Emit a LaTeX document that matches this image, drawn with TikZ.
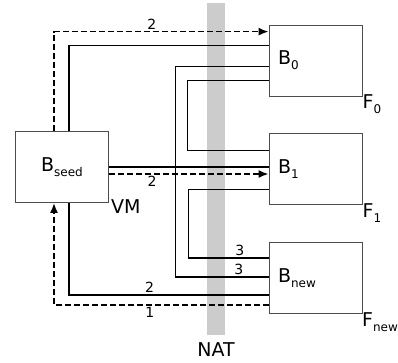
\documentclass[tikz,border=0pt]{standalone}
\usepackage{fontspec}
\setmainfont{DejaVu Sans}
\usetikzlibrary{arrows.meta,positioning}
\newcommand{\subtxt}[1]{\raisebox{-5pt}{\fontsize{12}{12}\selectfont#1}}

\begin{document}
\begin{tikzpicture}[x=1pt,y=-1pt,
  box/.style={draw=black!70,line width=0.8pt,fill=white,minimum width=93pt,minimum height=71pt,text width=75pt,inner xsep=9pt,align=left,font=\fontsize{19}{22}\selectfont},
  tag/.style={anchor=north west,inner sep=0pt,font=\fontsize{19}{22}\selectfont},
  num/.style={inner sep=1.5pt,font=\fontsize{14}{16}\selectfont},
  link/.style={line width=1.7pt},
  dlink/.style={link,dash pattern=on 6pt off 3pt},
  arr/.style={-{Latex[length=10pt,width=8pt]}},
  node distance=37pt
]
\useasboundingbox (0,0) rectangle (398,362);
\node[fill=black!20,minimum width=18pt,minimum height=332pt,inner sep=0pt] (nat) at (216,169) {};
\node[tag,anchor=north] (natlbl) at ([yshift=-7pt]nat.south) {NAT};
\node[box,align=center] (bseed) at (62,167) {B\subtxt{seed}};
\node[box] (b0) at (315.5,60.5) {B\subtxt{0}};
\node[box,below=of b0] (b1) {B\subtxt{1}};
\node[box,below=of b1] (bnew) {B\subtxt{new}};
\node[tag] (vm) at ([xshift=2pt,yshift=3pt]bseed.south east) {VM};
\node[tag] (f0) at ([yshift=2pt]b0.south east) {F\subtxt{0}};
\node[tag] (f1) at ([yshift=2pt]b1.south east) {F\subtxt{1}};
\node[tag] (fnew) at ([xshift=-0.5pt,yshift=2pt]bnew.south east) {F\subtxt{new}};
\draw[dlink,arr] ([xshift=-8pt]bseed.north) |- ([yshift=-7pt]b0.north west) node[num,pos=0.728,above] {2};
\draw[link] ([xshift=7pt]bseed.north) |- ([yshift=-21pt]b0.north west);
\draw[link] ([yshift=-42pt]b0.north west) -- ++(-93,0) |- ([yshift=-35pt]bnew.north west) node[num,pos=0.84,above] {3};
\draw[link] ([yshift=-56pt]b0.north west) -- ++(-81,0) |- ([yshift=-17pt]b1.north west);
\draw[link] ([yshift=-56pt]b1.north west) -- ++(-80,0) |- ([yshift=-16pt]bnew.north west) node[num,pos=0.82,above] {3};
\draw[link] (bseed.east) -- (bseed.east -| b1.west);
\draw[dlink,arr] ([yshift=-7pt]bseed.east) -- ([yshift=-7pt]bseed.east -| b1.west) node[num,pos=0.27,below] {2};
\draw[link] ([yshift=-53pt]bnew.north west) -| ([xshift=7pt]bseed.south) node[num,pos=0.298,above] {2};
\draw[dlink,arr] ([yshift=-63pt]bnew.north west) -| ([xshift=-8pt]bseed.south) node[num,pos=0.277,below] {1};
\end{tikzpicture}
\end{document}
